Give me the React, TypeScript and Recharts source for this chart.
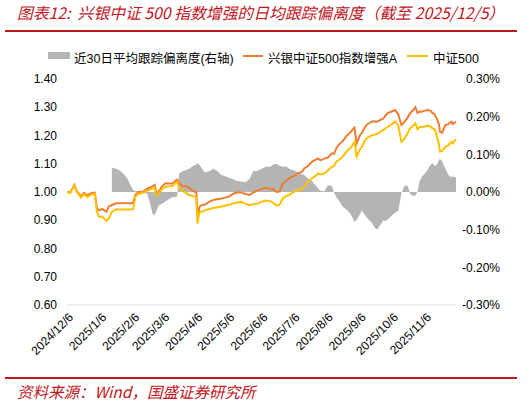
import React from "react";
import { Area, ComposedChart, Line, XAxis, YAxis } from "recharts";

const dates = [
  "2024/12/6", "2024/12/9", "2024/12/13", "2024/12/15", "2024/12/17", "2024/12/19", "2024/12/22", "2024/12/25", "2024/12/28", "2024/12/30",
  "2025/1/1", "2025/1/3", "2025/1/5", "2025/1/8", "2025/1/10", "2025/1/12", "2025/1/14", "2025/1/17", "2025/1/21", "2025/1/24",
  "2025/1/28", "2025/1/31", "2025/2/4", "2025/2/6", "2025/2/8", "2025/2/11", "2025/2/13", "2025/2/16", "2025/2/19", "2025/2/21",
  "2025/2/24", "2025/2/26", "2025/2/28", "2025/3/2", "2025/3/5", "2025/3/8", "2025/3/12", "2025/3/15", "2025/3/17", "2025/3/19",
  "2025/3/21", "2025/3/24", "2025/3/27", "2025/3/30", "2025/4/3", "2025/4/6", "2025/4/7", "2025/4/9", "2025/4/12", "2025/4/14",
  "2025/4/18", "2025/4/22", "2025/4/26", "2025/4/29", "2025/5/3", "2025/5/7", "2025/5/11", "2025/5/14", "2025/5/18", "2025/5/22",
  "2025/5/26", "2025/5/29", "2025/6/2", "2025/6/6", "2025/6/10", "2025/6/14", "2025/6/17", "2025/6/20", "2025/6/23", "2025/6/26",
  "2025/6/29", "2025/7/2", "2025/7/6", "2025/7/10", "2025/7/14", "2025/7/16", "2025/7/19", "2025/7/23", "2025/7/26", "2025/7/29",
  "2025/7/31", "2025/8/4", "2025/8/7", "2025/8/11", "2025/8/13", "2025/8/15", "2025/8/18", "2025/8/21", "2025/8/25", "2025/8/28",
  "2025/8/30", "2025/9/1", "2025/9/3", "2025/9/6", "2025/9/8", "2025/9/11", "2025/9/13", "2025/9/17", "2025/9/20", "2025/9/22",
  "2025/9/25", "2025/9/28", "2025/9/30", "2025/10/2", "2025/10/6", "2025/10/9", "2025/10/12", "2025/10/13", "2025/10/15", "2025/10/18",
  "2025/10/21", "2025/10/23", "2025/10/26", "2025/10/28", "2025/10/30", "2025/11/1", "2025/11/3", "2025/11/6", "2025/11/8", "2025/11/11",
  "2025/11/13", "2025/11/15", "2025/11/17", "2025/11/19", "2025/11/20", "2025/11/22", "2025/11/25", "2025/11/28", "2025/11/29", "2025/12/1",
  "2025/12/2", "2025/12/5",
];

// 兴银中证500指数增强A, net value (left axis)
const fund = [
  1.0, 0.998, 1.025, 1.003, 0.995, 0.985, 0.997, 0.988, 0.995, 0.997,
  0.997, 0.943, 0.935, 0.94, 0.935, 0.93, 0.948, 0.954, 0.96, 0.96,
  0.96, 0.96, 0.96, 0.962, 0.99, 1.0, 0.999, 1.003, 1.012, 1.015,
  1.02, 1.025, 0.994, 1.003, 1.02, 1.031, 1.03, 1.031, 1.038, 1.044,
  1.03, 1.022, 1.02, 1.016, 1.002, 1.0, 0.91, 0.948, 0.955, 0.955,
  0.965, 0.972, 0.975, 0.976, 0.98, 0.985, 0.995, 0.998, 0.998, 0.993,
  0.99, 0.998, 1.005, 1.01, 1.015, 1.012, 1.01, 1.0, 1.002, 1.03,
  1.04, 1.048, 1.056, 1.066, 1.072, 1.084, 1.09, 1.107, 1.113, 1.119,
  1.112, 1.118, 1.122, 1.137, 1.135, 1.155, 1.17, 1.18, 1.2, 1.21,
  1.22, 1.228, 1.172, 1.2, 1.21, 1.231, 1.24, 1.249, 1.25, 1.248,
  1.255, 1.26, 1.27, 1.279, 1.285, 1.29, 1.275, 1.261, 1.237, 1.25,
  1.265, 1.279, 1.29, 1.3, 1.28, 1.285, 1.284, 1.288, 1.29, 1.288,
  1.28, 1.275, 1.26, 1.24, 1.213, 1.21, 1.237, 1.24, 1.245, 1.249,
  1.24, 1.249,
];

// 中证500 (left axis)
const csi500 = [
  1.0, 0.997, 1.022, 1.0, 0.992, 0.98, 0.992, 0.982, 0.99, 0.992,
  0.994, 0.93, 0.912, 0.912, 0.905, 0.898, 0.905, 0.93, 0.939, 0.938,
  0.938, 0.938, 0.938, 0.94, 0.983, 0.994, 0.995, 0.998, 1.005, 1.008,
  1.012, 1.015, 0.988, 0.996, 1.01, 1.019, 1.02, 1.022, 1.03, 1.036,
  1.015, 1.005, 0.998, 0.99, 0.985, 0.983, 0.888, 0.927, 0.932, 0.935,
  0.94, 0.943, 0.946, 0.948, 0.952, 0.955, 0.96, 0.963, 0.965, 0.958,
  0.953, 0.957, 0.958, 0.965, 0.97, 0.968, 0.962, 0.952, 0.955, 0.978,
  0.985, 0.99, 1.0, 1.007, 1.01, 1.02, 1.035, 1.048, 1.055, 1.066,
  1.062, 1.066, 1.075, 1.09, 1.092, 1.107, 1.115, 1.125, 1.145, 1.155,
  1.165, 1.178, 1.125, 1.15, 1.16, 1.184, 1.192, 1.2, 1.203, 1.205,
  1.212, 1.22, 1.225, 1.23, 1.24, 1.25, 1.235, 1.213, 1.178, 1.19,
  1.21, 1.225, 1.235, 1.243, 1.222, 1.23, 1.23, 1.232, 1.235, 1.232,
  1.225, 1.222, 1.2, 1.17, 1.143, 1.145, 1.16, 1.165, 1.172, 1.178,
  1.172, 1.187,
];

// 近30日平均跟踪偏离度, in % (right axis)
const deviation = [
  null, null, null, null, null, null, null, null, null, null,
  null, null, null, null, null, null, null, 0.065, 0.062, 0.058,
  0.048, 0.038, 0.015, 0.005, 0.002, 0.003, 0.002, 0.001, -0.005, -0.022,
  -0.057, -0.062, -0.048, -0.035, -0.031, -0.025, -0.018, -0.013, -0.014, -0.012,
  0.05, 0.055, 0.058, 0.061, 0.069, 0.073, 0.077, 0.072, 0.06, 0.052,
  0.055, 0.062, 0.055, 0.046, 0.042, 0.037, 0.033, 0.03, 0.028, 0.026,
  0.035, 0.055, 0.056, 0.062, 0.067, 0.067, 0.073, 0.075, 0.07, 0.067,
  0.068, 0.062, 0.058, 0.052, 0.047, 0.045, 0.037, 0.03, 0.02, 0.01,
  0.003, 0.002, 0.018, 0.016, -0.003, -0.013, -0.025, -0.039, -0.048, -0.057,
  -0.068, -0.079, -0.075, -0.06, -0.049, -0.062, -0.07, -0.08, -0.095, -0.1,
  -0.088, -0.075, -0.077, -0.074, -0.062, -0.055, -0.049, -0.035, -0.002, 0.018,
  0.015, -0.005, -0.01, -0.01, 0.002, 0.03, 0.04, 0.05, 0.057, 0.072,
  0.076, 0.07, 0.072, 0.085, 0.087, 0.082, 0.062, 0.045, 0.042, 0.04,
  0.041, 0.039,
];

const tickDates = [
  "2024/12/6", "2025/1/6", "2025/2/6", "2025/3/6", "2025/4/6", "2025/5/6",
  "2025/6/6", "2025/7/6", "2025/8/6", "2025/9/6", "2025/10/6", "2025/11/6",
];
const leftTicks = [0.6, 0.7, 0.8, 0.9, 1.0, 1.1, 1.2, 1.3, 1.4];
const rightTicks = [-0.3, -0.2, -0.1, 0, 0.1, 0.2, 0.3];

const RED = "#C0161E";
const FONT = '"Liberation Sans", Arial, "Noto Sans CJK SC", sans-serif';
const CJK = '"Noto Sans CJK SC", "Liberation Sans", sans-serif';

const START = Date.UTC(2024, 11, 6);
function dayOffset(s: string) {
  const [y, m, d] = s.split("/").map(Number);
  return Math.round((Date.UTC(y, m - 1, d) - START) / 86400000);
}

const data = dates.map((d, i) => ({
  t: dayOffset(d),
  fund: fund[i],
  csi: csi500[i],
  dev: deviation[i],
}));
const xTicks = tickDates.map(dayOffset);
const labelByDay = new Map(tickDates.map((d) => [dayOffset(d), d]));

function XTick({ x, y, payload }: any) {
  return (
    <g transform={`translate(${x + 4},${y + 2})`}>
      <text transform="rotate(-45)" textAnchor="end" dy="0.35em" fontSize={12} fill="#000" fontFamily={FONT}>
        {labelByDay.get(payload.value)}
      </text>
    </g>
  );
}

function LeftTick({ x, y, payload }: any) {
  return (
    <text x={x} y={y} dy="0.35em" textAnchor="end" fontSize={12} fill="#000" fontFamily={FONT}>
      {payload.value.toFixed(2)}
    </text>
  );
}

function RightTick({ x, y, payload }: any) {
  return (
    <text x={x + 36} y={y} dy="0.35em" textAnchor="end" fontSize={12} fill="#000" fontFamily={FONT}>
      {payload.value.toFixed(2)}%
    </text>
  );
}

function LegendRow() {
  const item = { position: "absolute" as const, top: 48, fontSize: 12.5, fontFamily: FONT, color: "#000", whiteSpace: "nowrap" as const };
  return (
    <>
      <div style={{ position: "absolute", left: 48, top: 52, width: 22, height: 7, background: "#B4B4B4" }} />
      <div style={{ ...item, left: 74 }}>近30日平均跟踪偏离度(右轴)</div>
      <div style={{ position: "absolute", left: 243, top: 55, width: 20, height: 2, background: "#ED7D31" }} />
      <div style={{ ...item, left: 268 }}>兴银中证500指数增强A</div>
      <div style={{ position: "absolute", left: 407, top: 55, width: 21, height: 2, background: "#FFC000" }} />
      <div style={{ ...item, left: 433 }}>中证500</div>
    </>
  );
}

export default function App() {
  return (
    <div style={{ position: "absolute", left: 0, top: 0, width: 532, height: 403, background: "#fff", overflow: "hidden" }}>
      <div
        style={{
          position: "absolute", left: 17, top: 2, fontSize: 15.8, fontStyle: "italic", color: RED,
          fontFamily: CJK, whiteSpace: "pre", lineHeight: "22px",
        }}
      >
        图表12:  兴银中证 500 指数增强的日均跟踪偏离度（截至 2025/12/5）
      </div>
      <div style={{ position: "absolute", left: 5, top: 30, width: 512, height: 1.5, background: RED }} />
      <LegendRow />
      <ComposedChart width={532} height={403} data={data} margin={{ top: 79, right: 0, bottom: 0, left: 0 }}>
        <XAxis
          dataKey="t"
          type="number"
          domain={[0, 364]}
          ticks={xTicks}
          interval={0}
          tickLine={false}
          axisLine={{ stroke: "#D9D9D9" }}
          height={98}
          tick={<XTick />}
        />
        <YAxis
          yAxisId="left"
          domain={[0.6, 1.4]}
          ticks={leftTicks}
          axisLine={false}
          tickLine={false}
          width={67}
          tickMargin={4}
          tick={<LeftTick />}
        />
        <YAxis
          yAxisId="right"
          orientation="right"
          domain={[-0.3, 0.3]}
          ticks={rightTicks}
          axisLine={false}
          tickLine={false}
          width={76}
          tick={<RightTick />}
        />
        <Area
          yAxisId="right"
          dataKey="dev"
          type="linear"
          baseValue={0}
          stroke="none"
          fill="#B4B4B4"
          fillOpacity={1}
          isAnimationActive={false}
        />
        <Line yAxisId="left" dataKey="fund" type="linear" stroke="#ED7D31" strokeWidth={2} dot={false} isAnimationActive={false} />
        <Line yAxisId="left" dataKey="csi" type="linear" stroke="#FFC000" strokeWidth={2} dot={false} isAnimationActive={false} />
      </ComposedChart>
      <div style={{ position: "absolute", left: 5, top: 377, width: 512, height: 1.5, background: RED }} />
      <div
        style={{
          position: "absolute", left: 17, top: 380, fontSize: 15.5, fontStyle: "italic", color: RED,
          fontFamily: CJK, whiteSpace: "nowrap",
        }}
      >
        资料来源：Wind，国盛证券研究所
      </div>
    </div>
  );
}
